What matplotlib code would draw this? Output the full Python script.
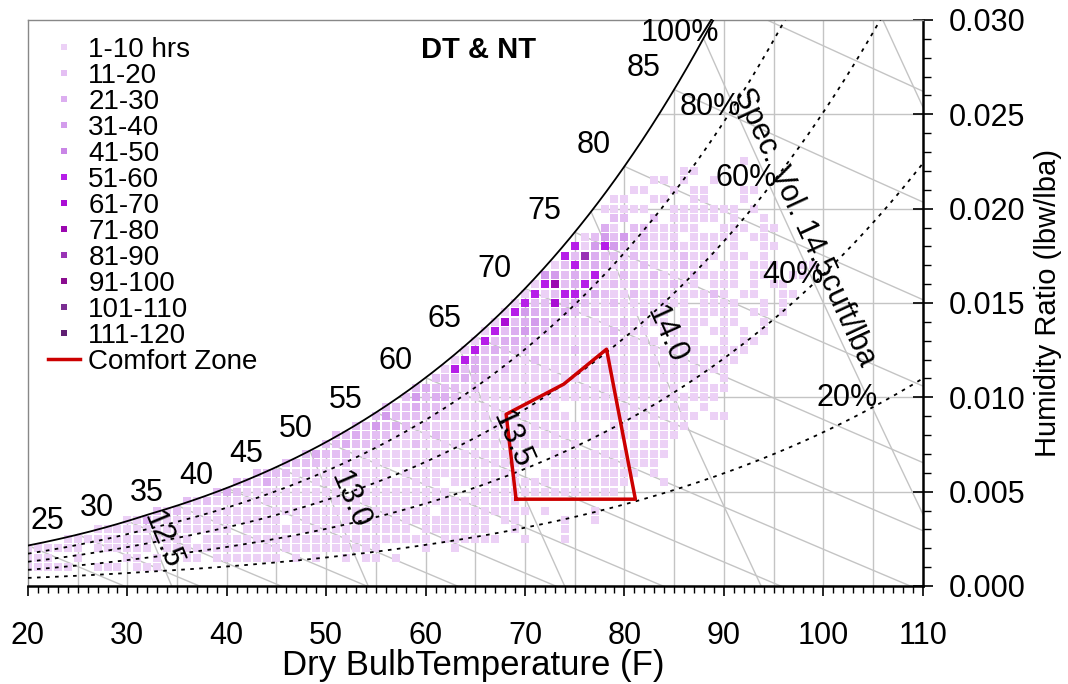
import numpy as np
import matplotlib
matplotlib.use('Agg')
import matplotlib.pyplot as plt
from matplotlib.lines import Line2D

plt.rcParams['font.family'] = ['Liberation Sans', 'DejaVu Sans']

# ---- chart data -------------------------------------------------------
bin_labels = ['1-10 hrs', '11-20', '21-30', '31-40', '41-50', '51-60', '61-70',
              '71-80', '81-90', '91-100', '101-110', '111-120']
bin_colors = ['#ecd1f6', '#e4bff3', '#dcaef0', '#d39cec', '#c985e6', '#b61ee8',
              '#aa0ed4', '#9b08b0', '#9933b5', '#8a0d8f', '#7a2d92', '#5f1f72']
bin_codes = '123456789abc'

# hour bins per cell: one string per humidity-ratio row, first char at row_t0 (F)
row_w = [0.0010, 0.0015, 0.0020, 0.0025, 0.0030, 0.0035, 0.0040, 0.0045,
         0.0050, 0.0055, 0.0060, 0.0065, 0.0070, 0.0075, 0.0080, 0.0085,
         0.0090, 0.0095, 0.0100, 0.0105, 0.0110, 0.0115, 0.0120, 0.0125,
         0.0130, 0.0135, 0.0140, 0.0145, 0.0150, 0.0155, 0.0160, 0.0165,
         0.0170, 0.0175, 0.0180, 0.0185, 0.0190, 0.0195, 0.0200, 0.0205,
         0.0210, 0.0215, 0.0220, 0.0225]
row_t0 = [20, 20, 20, 24, 27, 30, 33, 36,
          39, 41, 43, 46, 48, 50, 51, 53,
          55, 56, 58, 59, 61, 62, 63, 64,
          65, 66, 67, 68, 69, 70, 71, 72,
          73, 74, 75, 76, 78, 79, 78, 79,
          81, 83, 86, 92]
row_cells = [
    "11111..111.111",
    "111..1....11.1..11.1111111.1.1..1.11.1",
    "111111.111111.1111111111111111111111....1..1",
    "1111111111111.11111111111111111111111.111111..1...1",
    "11111111111111.11111111111111111.1111111..1....1",
    "1131111111111111.11111111111111111111.11....1..1",
    "2121111111111111111111111111.111111111.1....1",
    "2121111111111111111111111111111111",
    "2321111111111.1111111111..111111111111111",
    "221311111111111111111.111111111111111111...1",
    "22221211111111.111111111111..1111111111.1",
    "2222112111111111111111111..11111111111",
    "23222111111111111111111..111111111111",
    "22322211121111111111111111.111.1111",
    "2232221111211111111111111111111.111",
    "2242321211111111111111111.11111111",
    "24222121111111111111.111111111111.11",
    "222322111111111111..11111111111.1",
    "24233211111111111111111111111111",
    "232221211111111111111111111.1111",
    "2223221111111111111111111111.1",
    "16232121111111111111111111111",
    "16322211211111111111111111111",
    "16232221111211111111111111111",
    "1623322121111121111.111..1.11",
    "16234322111112111.1111.11.1.1",
    "172343221211121111.111.11..1",
    "16432232121111211.111111.11.1",
    "162272321121111211.1111..1.1",
    "161266232112121111121.11..11",
    "16823621212111211.111.1.11",
    "44232611211211121111.11..11",
    "1262321212111211.11.111..11",
    "6293221211112111.11.1",
    "614642121121111.1..11",
    "1242412111.11111.11",
    "31.2211111..111.11",
    "22..2.11111.1..1",
    "11111..1111111.1",
    "11..11..11...1",
    "11..1.11...11",
    "11.1..1",
    "11",
    "1",
]

comfort_t = [69.1, 81.1, 78.2, 73.9, 68.1, 69.1]
comfort_w = [0.0046, 0.0046, 0.01255, 0.0107, 0.0091, 0.0046]

rh_levels = [0.8, 0.6, 0.4, 0.2]
rh_labels = ['100%', '80%', '60%', '40%', '20%']
rh_label_t = [85.6, 88.6, 92.2, 97.0, 102.4]
rh_label_w = [0.0293, 0.0254, 0.02162, 0.01648, 0.00996]

wb_temps = [20, 25, 30, 35, 40, 45, 50, 55, 60, 65, 70, 75, 80, 85, 90]
wb_label_temps = [25, 30, 35, 40, 45, 50, 55, 60, 65, 70, 75, 80, 85]
wb_label_dy = [13.6, 13, 12.4, 12, 12.6, 13, 12.6, 16.5, 17.5, 19.6, 21, 21, 22]

sv_levels = [12.5, 13.0, 13.5, 14.0, 14.5, 15.0]
sv_labels = ['12.5', '13.0', '13.5', '14.0', 'Spec. Vol. 14.5cuft/lba']
sv_label_t = [33.5, 52.4, 68.7, 84.2, 98.1]
sv_label_w = [0.00244, 0.00456, 0.00774, 0.0133, 0.0190]

# ---- psychrometrics ---------------------------------------------------
P_ATM = 101325.0
SV_K = 39.53


def sat_press(t_f):
    tk = (np.asarray(t_f, dtype=float) - 32.0) / 1.8 + 273.15
    ice = (-5.6745359e3 / tk + 6.3925247 - 9.677843e-3 * tk + 6.2215701e-7 * tk ** 2
           + 2.0747825e-9 * tk ** 3 - 9.484024e-13 * tk ** 4 + 4.1635019 * np.log(tk))
    water = (-5.8002206e3 / tk + 1.3914993 - 4.8640239e-2 * tk + 4.1764768e-5 * tk ** 2
             - 1.4452093e-8 * tk ** 3 + 6.5459673 * np.log(tk))
    return np.exp(np.where(tk < 273.15, ice, water))


def hum_ratio(t_f, rh=1.0):
    pw = rh * sat_press(t_f)
    return 0.621945 * pw / (P_ATM - pw)


t_fine = np.linspace(10, 120, 2201)
ws_fine = hum_ratio(t_fine)


def sat_temp(w):
    return np.interp(w, ws_fine, t_fine)


def main():
    fig = plt.figure(figsize=(10.68, 6.84), dpi=100)
    ax = fig.add_axes([0.0262, 0.1433, 0.8377, 0.8275])
    ax.set_xlim(20, 110)
    ax.set_ylim(0, 0.030)

    grey = '#c4c4c4'
    # grid clipped under the saturation curve
    for t in range(25, 110, 5):
        ax.plot([t, t], [0, min(float(hum_ratio(t)), 0.03)], color=grey, lw=1, zorder=1)
    for w in [0.005, 0.010, 0.015, 0.020, 0.025]:
        ax.plot([sat_temp(w), 110], [w, w], color=grey, lw=1, zorder=1)

    # wet bulb lines
    for twb in wb_temps:
        ws = float(hum_ratio(twb))
        t = np.linspace(twb, 110, 200)
        w = ((1093 - 0.556 * twb) * ws - 0.240 * (t - twb)) / (1093 + 0.444 * t - twb)
        ax.plot(t, w, color=grey, lw=1, zorder=1)

    # specific volume lines
    sv_t, sv_w = [], []
    for v in sv_levels:
        f = (t_fine + 459.67) * (1 + 1.607858 * ws_fine) - v * SV_K
        t_top = np.interp(0, f, t_fine)
        w = np.linspace(0, float(hum_ratio(t_top)), 60)
        t = v * SV_K / (1 + 1.607858 * w) - 459.67
        ax.plot(t, w, color=grey, lw=1, zorder=1)
        sv_t.append(t)
        sv_w.append(w)

    # hour cells
    xs, ys, lv = [], [], []
    for w, t0, s in zip(row_w, row_t0, row_cells):
        for i, ch in enumerate(s):
            if ch != '.':
                xs.append(t0 + i)
                ys.append(w)
                lv.append(bin_codes.index(ch))
    xs, ys, lv = np.array(xs), np.array(ys), np.array(lv)
    for k, c in enumerate(bin_colors):
        m = lv == k
        if m.any():
            ax.scatter(xs[m], ys[m], marker='s', s=34, color=c, linewidths=0, zorder=2)

    # saturation + RH curves
    t = np.linspace(20, 110, 400)
    ax.plot(t, hum_ratio(t), color='black', lw=1.3, zorder=4)
    for rh in rh_levels:
        ax.plot(t, hum_ratio(t, rh), color='black', lw=1.3, ls=(0, (2, 3)), zorder=4)

    # comfort zone
    ax.plot(comfort_t, comfort_w, color='#cc0000', lw=2.5, zorder=5)

    # labels
    for tw, dy in zip(wb_label_temps, wb_label_dy):
        ax.annotate(str(tw), (tw, float(hum_ratio(tw))), xytext=(-30.5, dy),
                    textcoords='offset pixels', ha='center', va='center', fontsize=22)
    for lab, tx, wy in zip(rh_labels, rh_label_t, rh_label_w):
        ax.text(tx, wy, lab, ha='center', va='center', fontsize=22, zorder=6)
    for k, (lab, tx, wy) in enumerate(zip(sv_labels, sv_label_t, sv_label_w)):
        p0 = ax.transData.transform((sv_t[k][-1], sv_w[k][-1]))
        p1 = ax.transData.transform((sv_t[k][0], sv_w[k][0]))
        ang = np.degrees(np.arctan2(p1[1] - p0[1], p1[0] - p0[0]))
        ax.text(tx, wy, lab, ha='center', va='center', fontsize=22, rotation=ang,
                rotation_mode='anchor', zorder=6)

    ax.text(65.3, 0.0284, 'DT & NT', ha='center', va='center', fontsize=21,
            fontweight='bold')

    # legend
    handles = [Line2D([], [], ls='none', marker='s', ms=5, mew=0, color=c)
               for c in bin_colors]
    handles.append(Line2D([], [], color='#cc0000', lw=2.5))
    ax.legend(handles, bin_labels + ['Comfort Zone'], loc='upper left',
              bbox_to_anchor=(0.0224, 0.970), frameon=False, fontsize=20,
              labelspacing=0.0, handlelength=1.15, handletextpad=0.3,
              borderaxespad=0.0, borderpad=0.0)

    # axes styling
    ax.set_xticks(np.arange(20, 111, 10))
    ax.set_xticks(np.arange(20, 111, 1), minor=True)
    ax.set_yticks(np.arange(0, 0.0301, 0.005))
    ax.set_yticks(np.arange(0, 0.0301, 0.001), minor=True)
    ax.set_yticklabels(['%.3f' % v for v in np.arange(0, 0.0301, 0.005)])
    ax.yaxis.tick_right()
    ax.tick_params(axis='x', which='major', direction='out', length=7, width=1.2,
                   labelsize=22, pad=18)
    ax.tick_params(axis='x', which='minor', direction='out', length=5, width=1)
    ax.tick_params(axis='y', which='major', direction='inout', length=14, width=1.2,
                   labelsize=22, pad=12)
    ax.tick_params(axis='y', which='minor', direction='out', length=6, width=1)
    for side in ['left', 'top']:
        ax.spines[side].set_color('#888888')
        ax.spines[side].set_linewidth(1)
    for side in ['bottom', 'right']:
        ax.spines[side].set_color('black')
        ax.spines[side].set_linewidth(1.8)

    fig.text(473 / 1068, 1 - 665 / 684, 'Dry BulbTemperature (F)', ha='center',
             va='center', fontsize=25)
    fig.text(1048 / 1068, 1 - 303 / 684, 'Humidity Ratio (lbw/lba)', ha='center',
             va='center', rotation=90, fontsize=21)

    fig.savefig('out.png', dpi=100)
    return 0


if __name__ == '__main__':
    main()
